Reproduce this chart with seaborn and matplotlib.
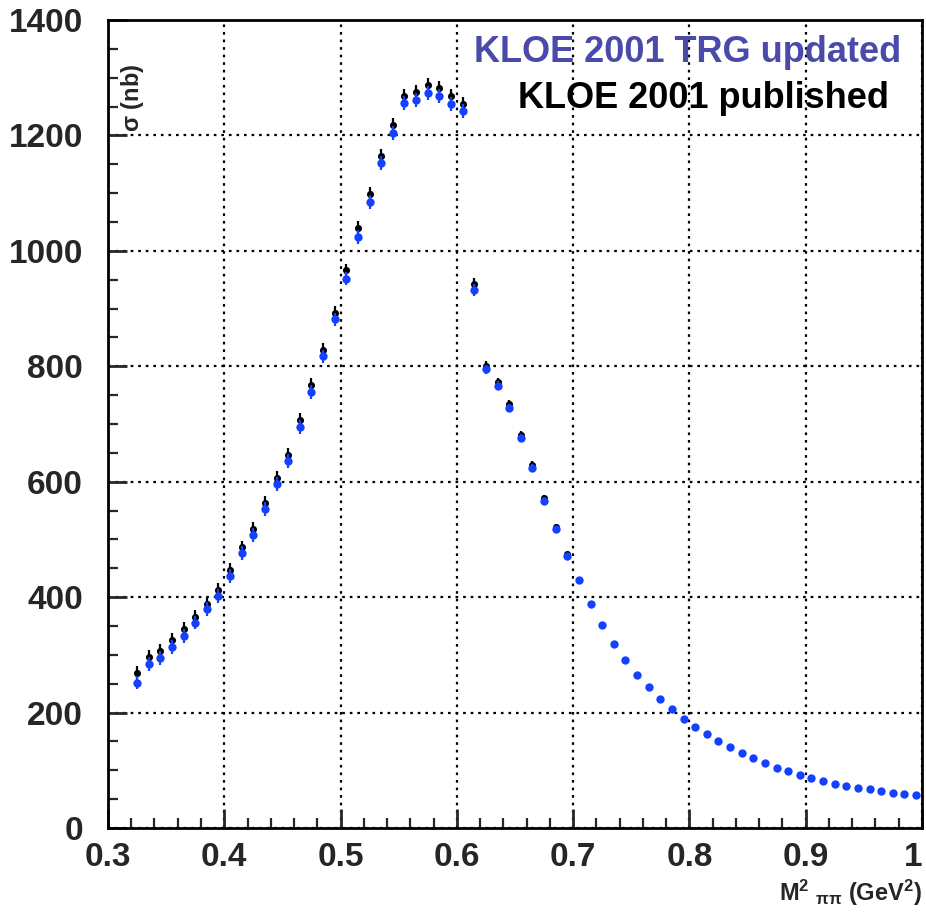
import matplotlib
matplotlib.use("Agg")
import matplotlib.pyplot as plt
import seaborn as sns
from matplotlib.ticker import MultipleLocator

# --- data (sigma in nb vs M^2_pipi in GeV^2) --------------------------------
PUB_X = [0.325, 0.335, 0.345, 0.355, 0.365, 0.375, 0.385, 0.395, 0.405,
         0.415, 0.425, 0.435, 0.445, 0.455, 0.465, 0.475, 0.485, 0.495,
         0.505, 0.515, 0.525, 0.535, 0.545, 0.555, 0.565, 0.575, 0.585,
         0.595, 0.605, 0.615, 0.625, 0.635, 0.645, 0.655, 0.665, 0.675,
         0.685, 0.695]
PUB_Y = [268, 297, 307, 326, 345, 366, 388, 412, 447,
         486, 518, 563, 607, 647, 707, 767, 829, 893,
         966, 1040, 1098, 1165, 1218, 1268, 1275, 1287, 1282,
         1269, 1254, 943, 801, 772, 734, 681, 629, 571,
         521, 474]
PUB_ERR = [12, 12, 12, 12, 12, 12, 12, 12, 12,
           12, 12, 12, 12, 12, 12, 12, 12, 12,
           12, 12, 12, 12, 12, 12, 12, 12, 12,
           12, 12, 10, 8, 8, 8, 7, 7, 6,
           5, 5]

TRG_X = [0.325, 0.335, 0.345, 0.355, 0.365, 0.375, 0.385, 0.395, 0.405,
         0.415, 0.425, 0.435, 0.445, 0.455, 0.465, 0.475, 0.485, 0.495,
         0.505, 0.515, 0.525, 0.535, 0.545, 0.555, 0.565, 0.575, 0.585,
         0.595, 0.605, 0.615, 0.625, 0.635, 0.645, 0.655, 0.665, 0.675,
         0.685, 0.695, 0.705, 0.715, 0.725, 0.735, 0.745, 0.755, 0.765,
         0.775, 0.785, 0.795, 0.805, 0.815, 0.825, 0.835, 0.845, 0.855,
         0.865, 0.875, 0.885, 0.895, 0.905, 0.915, 0.925, 0.935, 0.945,
         0.955, 0.965, 0.975, 0.985, 0.995]
TRG_Y = [252, 284, 295, 313, 333, 356, 379, 402, 437,
         476, 507, 552, 596, 636, 695, 755, 817, 881,
         952, 1024, 1084, 1152, 1204, 1256, 1261, 1273, 1268,
         1254, 1242, 932, 795, 766, 727, 675, 624, 567,
         518, 472, 430, 388, 351, 318, 291, 265, 245,
         223, 207, 189, 175, 163, 151, 140, 130, 122,
         113, 104, 99, 92, 87, 82, 77, 73, 69,
         67, 64, 61, 59, 57]
TRG_ERR = [12, 12, 12, 12, 12, 12, 12, 12, 12,
           12, 12, 12, 12, 12, 12, 12, 12, 12,
           12, 12, 12, 12, 12, 12, 12, 12, 12,
           12, 12, 10, 8, 8, 7, 7, 6, 6,
           5, 5, 4, 4, 3, 3, 3, 3, 2,
           2, 2, 2, 2, 2, 2, 2, 2, 2,
           2, 2, 2, 2, 2, 2, 2, 2, 2,
           2, 2, 2, 2, 2]

X_TICKS = [0.3, 0.4, 0.5, 0.6, 0.7, 0.8, 0.9, 1.0]
X_TICKLABELS = ["0.3", "0.4", "0.5", "0.6", "0.7", "0.8", "0.9", "1"]
Y_TICKS = [0, 200, 400, 600, 800, 1000, 1200, 1400]

BLACK = "#000000"
BLUE = "#1440ff"
LABEL_BLUE = "#4a4aaa"

sns.set_theme(style="white")
plt.rcParams["font.family"] = ["Liberation Sans", "DejaVu Sans"]
plt.rcParams["mathtext.fontset"] = "custom"
plt.rcParams["mathtext.rm"] = "Liberation Sans:bold"
plt.rcParams["mathtext.it"] = "Liberation Sans:bold"
plt.rcParams["mathtext.bf"] = "Liberation Sans:bold"

fig = plt.figure(figsize=(9.26, 9.15), dpi=100)
ax = fig.add_axes([0.1166, 0.0951, 0.879, 0.8831])

# error bars first, then markers on top (published, then updated)
ax.errorbar(PUB_X, PUB_Y, yerr=PUB_ERR, fmt="none", ecolor=BLACK,
            elinewidth=1.6, capsize=0, zorder=3)
sns.scatterplot(x=PUB_X, y=PUB_Y, color=BLACK, s=26, linewidth=0,
                ax=ax, zorder=4)
ax.errorbar(TRG_X, TRG_Y, yerr=TRG_ERR, fmt="none", ecolor=BLUE,
            elinewidth=1.6, capsize=0, zorder=5)
sns.scatterplot(x=TRG_X, y=TRG_Y, color=BLUE, s=36, linewidth=0,
                ax=ax, zorder=6)

ax.set_xlim(0.3, 1.0)
ax.set_ylim(0, 1400)
ax.set_xticks(X_TICKS)
ax.set_xticklabels(X_TICKLABELS)
ax.set_yticks(Y_TICKS)
ax.xaxis.set_minor_locator(MultipleLocator(0.02))
ax.yaxis.set_minor_locator(MultipleLocator(50))
ax.tick_params(axis="both", which="major", direction="in", length=14,
               width=2, labelsize=24, top=False, right=False,
               bottom=True, left=True)
ax.tick_params(axis="x", which="major", pad=10)
ax.tick_params(axis="y", which="major", pad=18)
ax.tick_params(axis="both", which="minor", direction="in", length=7,
               width=1.6, top=False, right=False, bottom=True, left=True)
for lab in ax.get_xticklabels() + ax.get_yticklabels():
    lab.set_fontweight("bold")
# keep the last x label ("1") inside the canvas
ax.get_xticklabels()[-1].set_horizontalalignment("right")
ax.grid(True, which="major", color=BLACK, linestyle=(0, (1.2, 2.2)),
        linewidth=1.6)
for sp in ax.spines.values():
    sp.set_linewidth(2)
    sp.set_color(BLACK)
ax.set_xlabel("")
ax.set_ylabel("")

# axis titles in ROOT style
ax.text(0.014, 0.946, r"$\sigma$ (nb)", transform=ax.transAxes, rotation=90,
        ha="left", va="top", fontsize=17, fontweight="bold")
fig.text(0.996, 0.008, r"M$^{2}$ $_{\pi\pi}$ (GeV$^{2}$)", ha="right",
         va="bottom", fontsize=17, fontweight="bold")

# legend-like labels
ax.text(0.975, 0.960, "KLOE 2001 TRG updated", transform=ax.transAxes,
        ha="right", va="center", fontsize=26, fontweight="bold",
        color=LABEL_BLUE)
ax.text(0.960, 0.903, "KLOE 2001 published", transform=ax.transAxes,
        ha="right", va="center", fontsize=26, fontweight="bold",
        color=BLACK)

fig.savefig("out.png", dpi=100, facecolor="white")
